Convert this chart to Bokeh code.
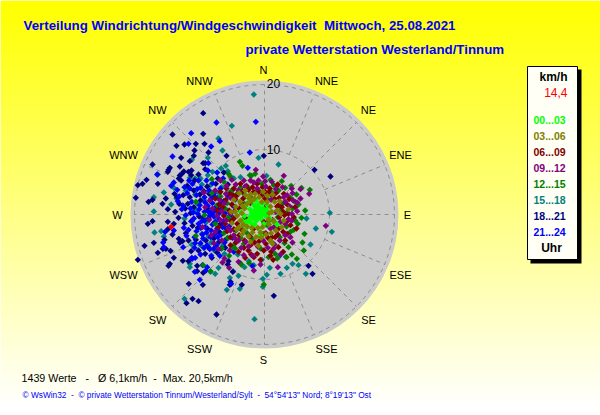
from bokeh.plotting import figure
from bokeh.core.properties import value
from bokeh.embed import file_html
from bokeh.resources import INLINE
import math

# ---------- data (east, north components of the wind) ----------
NB = "\u00a0"
TITLE = "Verteilung Windrichtung/Windgeschwindigkeit" + NB + NB + "Mittwoch, 25.08.2021"
SUBTITLE = "private Wetterstation Westerland/Tinnum"
STATS = "1439 Werte" + NB * 3 + "-" + NB * 3 + "Ø 6,1km/h" + NB * 2 + "-" + NB * 2 + "Max. 20,5km/h"
FOOTER = "© WsWin32" + NB * 2 + "-" + NB * 2 + "© private Wetterstation Tinnum/Westerland/Sylt" + NB * 2 + "-" + NB * 2 + "54°54'13\" Nord; 8°19'13\" Ost"
DIRECTIONS = ["N", "NNE", "NE", "ENE", "E", "ESE", "SE", "SSE", "S", "SSW", "SW", "WSW", "W", "WNW", "NW", "NNW"]
RINGS = [10, 20]
CURRENT_LABEL = "14,4"
BINS = ["00...03", "03...06", "06...09", "09...12", "12...15", "15...18", "18...21", "21...24"]

H00 = [(-1.2,.4),(-1,.1),(-.8,.6),(-1.4,-.1),(-.6,.2),(-1.1,.9),(-1.6,.5),(-.3,.5),(-.9,-.4),(-1.9,.2),(-.4,-.1),(-1.3,1.2),(-.7,1),(-.2,.9),(-2.1,-.3),(-1.7,-.6),(-2.4,-.9),(-1.2,-.9),(-.5,-.6),(0,.2),(.2,-.2),(-2.8,-1.1),(-2.2,.8),(-1.6,1.4),(-.9,1.5),(1.9,-1.5),(-2,-1.3),(.3,.7),(-3,-.2),(-1.5,-1.5),
       (-3.4,-.9),(-3.6,.4),(-2.9,1.2),(-2.4,1.9),(-1.3,2.1),(-.3,1.7),(.5,1.3),(1,.3),(.8,-.6),(-.1,-1.4),(-.9,-2.1),(-2.6,-1.9),(-3.1,-1.6),(1.4,-1.1),(-.6,-3.1)]
H03 = [(-2,2),(-2.6,1.6),(-1.5,2.4),(-3,.9),(-3.4,.2),(-2.6,-1.8),(-3.2,-1.5),(-1,-2),(-.3,-1.9),(.7,-1.5),(1.1,.4),(.9,1.2),(.4,1.9),(-3.6,-.9),(-4.1,-.2),(-2.1,3),(-.8,2.6),(1,-2.8),(-1.8,-2.7),(-3.7,1.9),(-2.8,2.9),(-.2,3.4),(1.4,-1),(1.9,.6),(-4.3,1.2),(-4.2,-2.2),(-1.3,-3.4),(.9,-3.9),(3.6,.8),(2.9,-.9),(-5,.4),(-3.4,-3),(-2.1,-4.1),(-.5,-3.5),(1.5,1.9),(2.3,2),(-4.9,-1.3),(-3.8,3.2),(-.9,-4.7),(1.2,-4.4),
       (-2.9,3.6),(-1.4,3.1),(.4,2.8),(1.2,3),(2.4,.1),(2.6,-1.9),(1.7,-2.4),(.2,-3),(-2.4,-3.3),(-3.8,-1.9),(-4.4,.4),(-3.3,1.3),(-2.3,2.4),(-4.6,2.2),(-.4,1.9),(.7,.2),(.6,-.7),(-3.1,-2.4),(-1.9,-2),(-.6,-2.7)]
H06 = [(-1.1,4.6),(1.9,4.4),(2,4.5),(1.5,2.35),(2.1,1.4),(4.6,1.1),(3.1,-3.9),(-.1,-5.4),(-3.1,-5),(4.4,-.4),(-1.8,4.1),(-2.7,4.3),(-3.6,4.6),(-.3,4.1),(.8,3.9),(-4.6,3.9),(-5.2,3.1),(-5.8,2.2),(-6.3,1.1),(-6.1,-.2),(-5.9,-1.4),(-5.6,-2.5),(-5.1,-3.4),(-4.3,-4.2),(-2.4,-5.4),(-1.1,-5.9),(1,-5.6),(2.1,-4.9),(3.4,-2.9),(3.9,-1.6),(3.7,2.3),(2.9,3.1),(1.1,2.9),(2.8,.4),(-.4,2.9),(-1.6,3.4),(-3.2,2.4),(-4.4,2.3),(-4.9,1.5),(-5.3,.6),(-4.6,-.6),(-4.1,-1.4),(-3.5,-2.2),(-2.2,-3.3),(-1.5,-4.2),(.2,-2.8),(.2,-4.4),(1.6,-3.4),(2.1,-2.1),(2.6,1.1),(-7.1,.6),(-6.9,-1.9),(-6.6,3.4),(-3.9,-5.6),(1.3,-6.8),(-2.9,-6.5),(-1.6,-6.4),(3,-.1),(.1,3.4),(-2.4,3.7),(-7.4,2.4),(-5.1,-4.6),(-.6,-6.8),(.3,1.2),(1.2,-.8),(-2.9,-.5),(-3.8,.9),(-.1,-1.1),(.1,2.4),(-1.7,-2.2),
       (-3.3,3.5),(-4.1,2.9),(-.9,3.4),(.6,3.3),(1.7,3.2),(2.2,2.5),(3.3,1.6),(3.6,.1),(3.4,-1),(2.8,-2.6),(2,-3),(1.1,-3.4),(.5,-3.5),(-.8,-4),(-2.1,-4.6),(-3,-3.9),(-3.8,-3.1),(-4.6,-2.2),(-5,-1),(-4.5,.5),(-4.7,2.9),(-3.5,1.6),(-2.1,1.7),(1.9,1.2),(2.2,-.4),(-5.7,3.9),(-6.8,1.5),(.9,-6.2),(2.8,-5.6),(-2,-6),(4.8,-2.1)]
H09 = [(-1.3,6.7),(2.9,5.8),(5.4,3.8),(6.7,3.1),(4.1,3.9),(5.4,2.4),(9.2,-1.7),(2.7,4.1),(-3.1,5.1),(-4.9,5.2),(-5.7,4.3),(-6.6,5.1),(-7.4,3.6),(-8.2,2.1),(-7.8,.9),(-8.3,-.8),(-7.4,-2.6),(-6.4,-3.9),(-6.3,-7.2),(-5.3,-8),(-6,-6.6),(-1.75,-6.2),(-1.6,-8.4),(-3.9,-7.1),(-3.1,-6.1),(-.6,-7.5),(1.4,-5.1),(2.4,-6),(3.9,-3.4),(4.2,-4.2),(2,-7.9),(3.1,-1.4),(3.4,2.9),(.2,4.2),(-2.1,5.1),(-.9,5.1),(1.1,4.9),(-3.9,3.6),(-5.8,3.1),(-6.7,2.2),(-5.1,.1),(-6.6,-.9),(-5.4,-2.1),(-4.6,-3.1),(-2.8,-4.1),(-.2,-3.9),(.9,-2.1),(2.4,-1.1),(4.1,-.9),(4.9,.5),(4.9,1.8),(3.1,1.9),(2.9,2.6),(-8.9,1.1),(-9.3,-1.9),(-9.1,3.3),(-7.6,-4.3),(-.2,5.7),(-3.9,-3.9),(-5.2,-5.4),
       (-4.3,4.5),(-2.9,4.2),(-1.6,4.8),(.1,5),(1.7,3.8),(4.2,3.2),(4.3,2.1),(3.8,1.2),(4.1,.1),(3.6,-.7),(3.1,-3.1),(2.3,-3.9),(1.5,-4.5),(.5,-5),(-1,-4.8),(-2.4,-4.8),(-3.5,-5),(-4.4,-3.6),(-5.1,-2.4),(-5.8,-.9),(-6.4,.5),(-6,1.7),(-5.1,2.5),(-7.1,-.2),(-8,-3.1),(-6.9,-5.2),(-1.1,3.9),(1,2.2),(1.7,.4),(1.4,-1.9)]
H12 = [(-3.7,7.9),(-3.3,7.3),(-2.2,5.9),(-2,5.8),(-5.4,6.1),(-5.1,5.7),(4,4.3),(5.55,4),(6.8,3.7),(5.55,-.5),(6,-2.9),(5.7,-4.2),(5.9,-5.4),(4.85,-6.65),(-.1,-10.5),(-3.5,-7.5),(-4.7,-4.7),(-4.4,-5.1),(-9.2,-7.6),(-8.1,-8.5),(-10.3,-3.2),(-10.3,1.9),(-7.9,5.3),(-6.1,4.9),(-2.4,3.9),(.9,5.2),(2.6,5),(3.9,2.5),(4.8,3),(5.1,1.5),(3.4,.3),(4.4,-2.3),(3.6,-4.9),(2.3,-3.4),(1.6,-5.9),(.6,-6.4),(-.6,-5.1),(-2.3,-7.3),(-3.1,-4.4),(-4.3,-2.4),(-6.1,-2.8),(-7.4,-1.4),(-7.1,1.4),(-5.6,1.7),(-4.2,3),(-3.6,4),(-.9,3.6),(1,3.4),(2.4,.6),(3.3,-1.8),(.7,-.9),(-.2,-2.9),(-1.9,-3.6),(-2.1,2.6),(2.1,3.6),(1.9,-6.6),(4.1,-6),(3.3,-6.4),(5,-1.4),(6.1,.6),(4.6,1.9),(-6.4,-5.1),(-5.3,-6.2),(-7.9,3.2),(-9,-.1),(-1.4,6.1),(.4,2.4),(-4.9,-.9),(-3,1.6),(2,-.4),
       (3.1,4),(1.4,4.4),(-.4,4.6),(-3.1,3.1),(-4.9,3.6),(4.2,.9),(4.6,-.9),(3.9,-2.6),(3,-4.3),(1,-4.1),(-.7,-3.2),(-2.6,-2.8),(-3.6,-3.5),(-5.5,-3.5),(-5.4,-.5),(-5.9,.9),(-6.6,2.7),(2.8,1.7),(1.6,-1.3),(.4,-1.6)]
H15 = [(-1.6,18),(-4.9,13.3),(-6.9,11.4),(-6.3,9.6),(-.9,8.5),(-8.5,8.5),(-10.9,8.2),(2.1,7.5),(.3,5.8),(-16,6),(-16.6,2.6),(-16.6,.45),(-5.8,7.3),(-5.5,6.5),(-7.8,6.4),(-8.5,5.9),(-9.6,5.4),(-10.4,5.4),(-11.2,5.5),(-13.6,4),(-15.1,3.3),(-14,1.5),(-11.8,3.6),(-12.3,1.4),(-9.4,4.5),(-8.1,4.4),(-6.4,4.1),(-7.5,2.6),(-9.1,2.2),(-10.4,3),(-15.5,-2.5),(-15.1,-3.3),(-16.5,-2.7),(6.3,-.6),(7.7,-2.1),(10.1,-2.6),(6.9,-4.5),(9.8,.25),(6.2,-8.9),(3.2,-6.35),(2.15,-6.35),(3.35,-8),(-.4,-6.8),(-2.35,-7),(-3.6,-7.3),(-6.9,-8),(-7.4,-8.9),(-8.1,-8.6),(-4.7,-8.5),(-3.9,-9.2),(-5.2,-9.5),(-5.65,-11.3),(-3.7,-11.15),(-.25,-9.65),(.35,-9.05),(-.25,-10.85),(-11.2,-7.4),(-11.2,-7.9),(-12,-12.65),(-1.5,-15.7),(-10.9,-4.5),(-9,-5),(-7.5,-5.4),(-6,-5.9),(-9.4,-2.9),(-8.8,-1.2),(-10.9,-1),(-12,-.6),(-7.3,-.4),(-10.3,.6),(-13.2,2.4),(-8.4,-3.3),(-6.2,-4.6),(5.1,-7.6),(-5.4,3.2),(-6.9,3.3),
       (-6.5,6.9),(-4.6,5.4),(-3.6,5.6),(-4.4,2.2),(-5,-.2),(-6,-3.9),(-5,-5.2),(-4,-6),(-3,-7.9),(-1.6,-7.6),(.8,-8),(2.4,-8.9),(4.2,-7.4),(-8,-4.2),(-7,-2.4),(-8.2,.7),(-9.6,-4.6),(-10.1,1.6)]
H18 = [(-.1,8.8),(7.5,6.7),(9.9,5.7),(-9.2,15.2),(-13.8,12),(-9.2,12.1),(-13.2,10.3),(-12,10.5),(-10.3,10.6),(-9,10.6),(-8.4,9.3),(-5.7,8.8),(-10.5,9.6),(-10.6,8.8),(-11.2,8),(-12.5,8.5),(-12.7,7.2),(-9.2,7.7),(-8.9,7.7),(-16.8,7.5),(-14.2,7),(-14.4,6.7),(-14.5,6.4),(-17.7,5.2),(-18.3,4.6),(-19,4.4),(-16,4.6),(-19.3,2.5),(-16.8,2.2),(-17.4,1.9),(-12.1,6.45),(-12.4,6.1),(-12.7,5.85),(-10.95,6.6),(-11.4,6.4),(-12.85,5.4),(-12.5,5.1),(-11,5.9),(-10.5,5.1),(-11.6,4.3),(-13.5,3.1),(-15.3,1.6),(-14.8,2.4),(-14.5,.8),(-13.1,2.6),(-12.2,2.9),(-11.5,1.6),(-12.9,-.5),(-14.5,-1.1),(-13.4,.4),(-10.6,3.6),(-9.6,2.1),(-16.8,-1),(-17.5,-1.4),(-14.5,-2.2),(-16.6,-4.25),(-18,-4.7),(-15.25,-5.15),(-14.8,-5.15),(-14.1,-5.45),(-16,-5.75),(-13.6,-6.5),(-19,-6.8),(-14.2,-7.4),(-14.4,-7.7),(-12.25,-6.95),(-11.35,-10.4),(-9.25,-10.55),(-12.85,-3.65),(-12.3,-4),(-12.7,-4.2),(-11.4,-3.9),(-10.3,-3.8),(-11.4,-7),(-10.1,-7.7),(-10.1,-8.5),(-9.2,-8.75),(-10.8,-12.65),(-11.7,-13.3),(-9.9,-13),(-7.2,-15),(1.4,-12.2),(-3.4,-10.55),(-5.1,-10.1),(-5.2,-10.55),(-4.75,-8.6),(-5.5,-7.5),(-5.4,-7),(6.6,-7.7),(7.2,-8.9),(-8.6,-2.1),(-7.6,-3.6),(-6.8,-4.1),(-8.9,-5.9),(-7.9,-6.5),(-9.8,-.3),(-11.1,.2),(-8.6,.9),(-9.1,3.5),(-8.3,3.1),(-7.3,4.6),(-7,5.4),(-6.1,6.3),(-5.5,4.5),(-10,-2),(-10.8,-1.7),(-12,-1.3),(-13.8,-3),(-15,-3.8),
       (-7.9,.1),(-6.6,-1.4),(-5.6,-3.6),(-7,.8),(-6.1,2),(-8.8,-3.9),(-9.9,-5.4),(-11,-5.5),(-11.8,-2.8),(-9.2,-.6),(-10.6,1.1),(-11.9,.9),(-12.8,1.6),(-13.6,-1.4),(-11.2,2.6),(-9.7,3),(-8.6,4.2),(-9.9,6),(-8.9,6.8),(-7.7,2.9),(-6.7,-2.7),(-8.4,-4.9),(-7.1,-5.7),(-5.9,-5)]
H21 = [(-1.3,13.9),(-7.2,13.8),(-11,12.2),(-6.7,11),(-11.4,10.6),(-8,10.2),(-2.2,9.3),(-13.8,8.7),(-8.4,7.7),(-2.5,7),(-16.1,6),(-13.6,4.8),(-14,4.3),(-14.9,-2.6),(-13.6,-2.4),(-15.2,-4.2),(-15.1,-4.9),(-10.85,-6.65),(-10.4,-6.5),(-9.3,-7.6),(-8.6,-7.9),(-10.45,-8.6),(-8.8,-8.4),(-9.7,-9.8),(-5,-10.4),(-1.85,-7.7),(-10.9,-6.5),(-9.6,-6),(-8,-6.2),(-7.6,-5.1),(-6.7,-6.2),(-12.2,-4.9),(-11.7,-3.2),(-10.5,-5),(-9.6,-4.3),(-8.6,-4.6),(-9.3,-3),(-10.2,-2.5),(-11.4,-2.3),(-12.1,-2),(-11,-1),(-8.9,-1.9),(-8,-2.4),(-7.1,-2.1),(-6.5,-3),(-5.9,-2),(-7.4,-1.1),(-8.4,-.6),(-9.4,-1),(-10,.1),(-11.8,-.1),(-11.1,.9),(-9,.4),(-7.9,.4),(-6.9,.1),(-6.2,.9),(-7.3,1.1),(-8.5,1.3),(-9.7,1.4),(-10.9,1.9),(-12.4,.8),(-13,2),(-11.6,3.2),(-10.2,2.9),(-9,2.6),(-8,2.4),(-7.1,2.5),(-8.3,3.6),(-9.6,4),(-10.8,4.6),(-12,4.1),(-13.1,3.7),(-11.3,5.1),(-9.9,5.1),(-8.7,5.1),(-7.8,4.7),(-6.6,3.9),(-8.5,6.6),(-7.1,6.3),(-6.2,5.4),(-5.5,2.8),(-4.7,1.3),(-5.2,-.2),(-6.2,-1),(-5.3,-1.8),(-4.8,-3.5),(-6,-4.2),(-7,-3.4),(-4.6,-5.6),(-7.6,-.3),(-9.2,-3.6),(-10.5,-3.4),(-8.1,-3.4),(-9.9,-1.4),(-12.2,1.3),(-6.5,1.9),(-7.8,1.7),(-8.4,.4),(-9.8,.8),(-10.7,.3),
       (-6.8,-.7),(-7.8,-1.5),(-8.7,-2.7),(-7.4,-2.9),(-6.3,-1.9),(-5.6,-.7),(-5.9,.2),(-6.7,.6),(-7.5,.5),(-8.2,-.2),(-9,-.9),(-9.6,-2),(-10.6,-.6),(-8.9,1.8),(-7.6,3.1),(-10.1,3.8),(-11.2,3.9),(-12.8,2.7),(-10.4,-4.3),(-8.2,-5.2),(-7.2,-4.6),(-9.1,-5),(-6.5,-5.1)]
# the single latest reading, marked in red
CURRENT = [(-14, -1.85)]
SERIES = [H00, H03, H06, H09, H12, H15, H18, H21]
# ------------------------------------------------------------------------------------

CAL = 20 / 19.5                # read values -> km/h on the chart's own scale
PX = 6.5                       # pixels per km/h
W, H = 600, 415                # figure size
CX, CY = 264, 214              # disc centre on the picture

x0 = -CX / PX
y1 = CY / PX
p = figure(width=W, height=H, output_backend="svg", toolbar_location=None,
           x_range=(x0, x0 + W / PX), y_range=(y1 - H / PX, y1),
           x_axis_location=None, y_axis_location=None, min_border=0, outline_line_color=None)
p.grid.visible = False
p.background_fill_color = "#ffffff"
p.border_fill_color = "#ffffff"

def X(px): return (px - CX) / PX
def Y(py): return (CY - py) / PX

# page gradient
rows = list(range(0, H))
def shade(py):
    b = int(round(255 * min(1, max(0, (py - 2) / 405))))
    return "#ffff%02x" % b
p.quad(left=X(0), right=X(610), top=[Y(r) for r in rows], bottom=[Y(r + 1.5) for r in rows],
       fill_color=[shade(r) for r in rows], line_color=None)

# disc and grid
p.circle(x=[0], y=[0], radius=134 / PX, fill_color="#cbcbcb", line_color=None)
for ring in RINGS:
    p.circle(x=[0], y=[0], radius=ring, fill_color=None, line_color="#8c8c8c", line_width=1, line_dash="4 4")
sx, sy = [], []
for i in range(len(DIRECTIONS)):
    a = math.radians(i * 22.5)
    r0 = 0 if i % 2 == 0 else RINGS[0]
    r1 = RINGS[1]
    sx.append([r0 * math.sin(a), r1 * math.sin(a)])
    sy.append([r0 * math.cos(a), r1 * math.cos(a)])
p.multi_line(sx, sy, line_color="#8c8c8c", line_width=1, line_dash="4 4")

# points
COLORS = ["#00ff00", "#808000", "#800000", "#800080", "#008000", "#008080", "#000080", "#0000ff"]
ORDER = [5, 6, 7, 4, 2, 3, 0, 1]
MARK = dict(marker="square", size=4.5, angle=math.pi / 4, line_color=None)
for k in ORDER:
    pts = SERIES[k]
    p.scatter([u * CAL for u, v in pts], [v * CAL for u, v in pts], fill_color=COLORS[k], **MARK)
p.scatter([u * CAL for u, v in CURRENT], [v * CAL for u, v in CURRENT], fill_color="#ff0000", **MARK)

def label(px, py, txt, size="11px", color="#000000", style="normal", align="left", font="Liberation Sans"):
    p.text(x=[X(px)], y=[Y(py)], text=[txt], text_font=value(font), text_font_size=value(size),
           text_color=color, text_font_style=style, text_align=align, text_baseline="middle")

# direction labels (picture position of each label's centre)
LAB_POS = [(263, 69), (326, 80), (368, 109), (400, 154), (407, 214), (400, 274), (368, 319), (326, 348),
           (263, 359), (199, 348), (157, 319), (123, 274), (117, 214), (123, 154), (157, 109), (199, 80)]
for name, (lx, ly) in zip(DIRECTIONS, LAB_POS):
    label(lx, ly, name, size="11px", align="center")
label(273, 83, "20", size="12px", align="center")
label(273, 149, "10", size="12px", align="center")

# titles
label(23, 25, TITLE, size="13.3px", color="#0000ff", style="bold")
label(245, 49, SUBTITLE, size="13.3px", color="#0000ff", style="bold")
label(21, 377, STATS, size="10.7px")
label(22, 394, FOOTER, size="8.3px", color="#0000ff")

# legend box
p.quad(left=[X(530)], right=[X(581)], top=[Y(69)], bottom=[Y(263)], fill_color="#000000", line_color=None)
p.quad(left=[X(527)], right=[X(577)], top=[Y(66)], bottom=[Y(259)], fill_color="#fffff5", line_color="#000000", line_width=1)
label(567, 76, "km/h", size="12px", style="bold", align="right")
label(567, 92, CURRENT_LABEL, size="12px", color="#ff0000", align="right")
for n, (b, c) in enumerate(zip(BINS, COLORS)):
    label(533, 119 + 16 * n, b, size="10.5px", color=c, style="bold")
label(551, 247, "Uhr", size="12px", style="bold", align="center")

open("out.html", "w").write(file_html(p, INLINE))
